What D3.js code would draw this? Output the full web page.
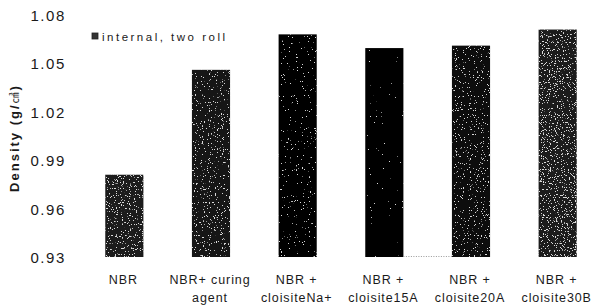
<!DOCTYPE html>
<html><head><meta charset="utf-8">
<script src="https://cdn.jsdelivr.net/npm/d3@7"></script>
<style>
body{margin:0;background:#fff;}
svg{display:block;}
text{font-family:"Liberation Sans",Arial,sans-serif;fill:#1a1a1a;}
</style></head>
<body>
<svg id="c" width="596" height="308"></svg>
<script>
const categories = [["NBR"],["NBR+ curing","agent"],["NBR +","cloisiteNa+"],["NBR +","cloisite15A"],["NBR +","cloisite20A"],["NBR +","cloisite30B"]];
const density = [0.981, 1.046, 1.068, 1.0595, 1.061, 1.071];
const yTicks = [0.93, 0.96, 0.99, 1.02, 1.05, 1.08];
const seriesName = "internal, two roll";

const svg = d3.select("#c");
const x = d3.scaleBand().domain(d3.range(categories.length)).range([81, 601]).paddingInner(0.56).paddingOuter(0.28);
const y = d3.scaleLinear().domain([0.93, 1.08]).range([257, 15]);

// speckle filters (texture only)
const defs = svg.append("defs");
const thresh = [0.64, 0.665, 0.72, 0.78, 0.67, 0.625];
const base = ["#1c1c1c","#151515","#050505","#000","#0b0b0b","#1e1e1e"];
thresh.forEach((t,i)=>{
  const f = defs.append("filter").attr("id","sp"+i).attr("x",0).attr("y",0).attr("width",1).attr("height",1);
  f.append("feTurbulence").attr("type","fractalNoise").attr("baseFrequency",0.85).attr("numOctaves",2).attr("seed",i+3).attr("result","n");
  const k = 25, b = -k*t;
  f.append("feColorMatrix").attr("in","n").attr("type","matrix")
    .attr("values",`0 0 0 0 0.7 0 0 0 0 0.7 0 0 0 0 0.7 ${k} 0 0 0 ${b}`).attr("result","dots");
  f.append("feComposite").attr("in","dots").attr("in2","SourceAlpha").attr("operator","in").attr("result","d2");
  const m = f.append("feMerge");
  m.append("feMergeNode").attr("in","SourceGraphic");
  m.append("feMergeNode").attr("in","d2");
});

// bars
svg.selectAll("rect.bar").data(density).join("rect").attr("class","bar")
  .attr("x",(d,i)=>x(i)).attr("width",x.bandwidth())
  .attr("y",d=>y(d)).attr("height",d=>y(0.93)-y(d))
  .attr("fill",(d,i)=>base[i]).attr("filter",(d,i)=>`url(#sp${i})`);

// dotted baseline fragment
svg.append("line").attr("x1",x(3)+x.bandwidth()).attr("x2",x(4)).attr("y1",y(0.93)-0.5).attr("y2",y(0.93)-0.5)
  .attr("stroke","#999").attr("stroke-width",1).attr("stroke-dasharray","1,1.5");

// y axis
const ya = svg.append("g").attr("transform","translate(66,0)")
  .call(d3.axisLeft(y).tickValues(yTicks).tickFormat(d3.format(".2f")).tickSize(0).tickPadding(0));
ya.select(".domain").remove();
ya.selectAll("text").style("font-size","15px").style("letter-spacing","1.6px").attr("fill","#2a2a2a").attr("dy","0.36em");

// y label
const yl = svg.append("text").attr("transform","translate(18.5,138) rotate(-90)").attr("text-anchor","middle")
  .style("font-size","13px").style("font-weight","bold").style("letter-spacing","2px");
yl.append("tspan").text("Density (g/");
yl.append("tspan").style("font-family","'Noto Sans CJK KR'").style("font-size","11px").style("font-weight","normal").text("㎤");
yl.append("tspan").text(")");

// x labels
const xl = svg.append("g");
categories.forEach((c,i)=>{
  const cx = x(i)+x.bandwidth()/2-1;
  const t = xl.append("text").attr("text-anchor","middle").attr("x",cx).attr("y",284)
    .style("font-size","12.5px").style("letter-spacing","0.9px").attr("fill","#222");
  c.forEach((line,j)=>t.append("tspan").attr("x",cx).attr("dy",j?"17.5px":0).text(line));
});

// legend
const lg = svg.append("g").attr("transform","translate(92,33)");
lg.append("rect").attr("width",6).attr("height",6).attr("fill","#333").attr("stroke","#222").attr("stroke-width",0.8);
lg.append("text").attr("x",10).attr("y",7.5).style("font-size","11.5px").style("letter-spacing","2.5px").text(seriesName);
</script>
</body></html>
